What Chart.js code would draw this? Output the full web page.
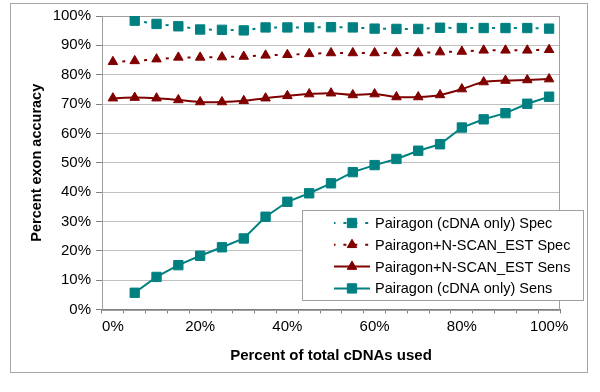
<!DOCTYPE html>
<html>
<head>
  <title>Percent exon accuracy</title>
  <script src="https://cdn.jsdelivr.net/npm/chart.js"></script>
  <style>
    body { margin: 0; background: #fff; }
    .wrap { width: 600px; height: 392px; }
  </style>
</head>
<body>
<div class="wrap"><canvas id="chart" width="600" height="392"></canvas></div>
<script>
  // x categories: percent of total cDNAs used
  const categories = ['0%', '5%', '10%', '15%', '20%', '25%', '30%', '35%', '40%', '45%', '50%',
                      '55%', '60%', '65%', '70%', '75%', '80%', '85%', '90%', '95%', '100%'];
  const yTicks = [0, 10, 20, 30, 40, 50, 60, 70, 80, 90, 100];

  // percent exon accuracy
  const pairagonSpec = [null, 98.4, 97.3, 96.5, 95.4, 95.3, 95.1, 96.1, 96.1, 96.1, 96.2,
                        96.1, 95.7, 95.6, 95.6, 96.0, 95.9, 95.9, 95.9, 95.9, 95.7];
  const nscanSpec    = [84.4, 84.7, 85.3, 85.9, 85.9, 86.0, 86.2, 86.6, 86.8, 87.1, 87.4,
                        87.4, 87.4, 87.4, 87.4, 87.7, 87.9, 88.3, 88.3, 88.3, 88.5];
  const nscanSens    = [72.0, 72.2, 72.0, 71.4, 70.7, 70.7, 71.1, 72.0, 72.8, 73.4, 73.7,
                        73.1, 73.4, 72.4, 72.4, 73.1, 75.1, 77.5, 78.0, 78.2, 78.5];
  const pairagonSens = [null, 5.7, 11.1, 15.1, 18.3, 21.2, 24.2, 31.6, 36.7, 39.6, 43.0,
                        46.8, 49.2, 51.3, 54.1, 56.3, 62.0, 64.8, 66.9, 70.1, 72.5];

  const TEAL = '#008080';
  const DARKRED = '#800000';
  const FONT = "'Liberation Sans', Arial, sans-serif";

  // outer chart frame + plot area border
  const framePlugin = {
    id: 'frame',
    beforeDraw(chart) {
      const ctx = chart.ctx;
      ctx.save();
      ctx.fillStyle = '#fff';
      ctx.fillRect(0, 0, chart.width, chart.height);
      ctx.strokeStyle = '#a6a6a6';
      ctx.lineWidth = 1;
      ctx.strokeRect(10.5, 3.5, 577, 369);
      ctx.restore();
    },
    beforeDatasetsDraw(chart) {
      const a = chart.chartArea;
      const ctx = chart.ctx;
      ctx.save();
      ctx.strokeStyle = '#a0a0a0';
      ctx.lineWidth = 1;
      ctx.strokeRect(Math.round(a.left) + 0.5, Math.round(a.top) + 0.5,
                     Math.round(a.right - a.left) - 1, Math.round(a.bottom - a.top));
      ctx.restore();
    }
  };

  // Excel-like legend box inside the plot, drawn from the datasets
  const legendBoxPlugin = {
    id: 'legendBox',
    afterDraw(chart) {
      const ctx = chart.ctx;
      const box = { x: 302.5, y: 210.5, w: 281, h: 90 };
      ctx.save();
      ctx.fillStyle = '#fff';
      ctx.fillRect(box.x, box.y, box.w, box.h);
      ctx.strokeStyle = '#a0a0a0';
      ctx.lineWidth = 1;
      ctx.strokeRect(box.x, box.y, box.w, box.h);

      chart.data.datasets.forEach((ds, i) => {
        const y = 223 + i * 21.8;
        ctx.strokeStyle = ds.borderColor;
        ctx.lineWidth = ds.borderWidth;
        ctx.setLineDash(ds.borderDash || []);
        ctx.lineDashOffset = ds.borderDashOffset || 0;
        ctx.beginPath();
        ctx.moveTo(334, y);
        ctx.lineTo(370, y);
        ctx.stroke();
        ctx.setLineDash([]);
        ctx.fillStyle = ds.pointBackgroundColor;
        ctx.strokeStyle = ds.pointBorderColor;
        ctx.lineWidth = 1;
        Chart.helpers.drawPoint(ctx, {
          pointStyle: ds.pointStyle, rotation: 0,
          radius: ds.pointRadius, borderWidth: 1
        }, 352, y);
        ctx.fillStyle = '#000';
        ctx.font = '14.5px ' + FONT;
        ctx.textBaseline = 'middle';
        ctx.textAlign = 'left';
        ctx.fillText(ds.label, 375, y + 1);
      });
      ctx.restore();
    }
  };

  function series(label, data, color, style, radius, dashed, tension) {
    return {
      label: label,
      data: data,
      borderColor: color,
      backgroundColor: color,
      borderWidth: 2,
      borderDash: dashed ? [3, 7.9] : [],
      borderDashOffset: dashed ? 1.5 : 0,
      pointStyle: style,
      pointRadius: radius,
      pointBorderWidth: 1,
      pointBackgroundColor: color,
      pointBorderColor: color,
      tension: tension,
      spanGaps: false
    };
  }

  new Chart(document.getElementById('chart'), {
    type: 'line',
    data: {
      labels: categories,
      datasets: [
        series('Pairagon (cDNA only) Spec', pairagonSpec, TEAL, 'rect', 6.6, true, 0),
        series('Pairagon+N-SCAN_EST Spec', nscanSpec, DARKRED, 'triangle', 5.5, true, 0),
        series('Pairagon+N-SCAN_EST Sens', nscanSens, DARKRED, 'triangle', 5.5, false, 0.35),
        series('Pairagon (cDNA only) Sens', pairagonSens, TEAL, 'rect', 6.6, false, 0)
      ]
    },
    options: {
      responsive: false,
      animation: false,
      layout: { padding: { top: 16, right: 40, left: 0, bottom: 0 } },
      plugins: {
        legend: { display: false },
        tooltip: { enabled: false }
      },
      scales: {
        x: {
          type: 'category',
          offset: true,
          ticks: {
            autoSkip: false,
            maxRotation: 0,
            padding: 4,
            color: '#000',
            font: { size: 15, family: FONT },
            callback: (v, i) => (i % 4 === 0 ? categories[i] : '')
          },
          grid: { offset: true, drawOnChartArea: false, tickLength: 4, tickColor: '#808080' },
          border: { color: '#808080', width: 1 },
          title: {
            display: true,
            text: 'Percent of total cDNAs used',
            color: '#000',
            font: { size: 15, weight: 'bold', family: FONT },
            padding: { top: 4, bottom: 27 }
          },
          afterFit: s => { s.height = 82.5; }
        },
        y: {
          min: 0,
          max: 100,
          afterBuildTicks: s => { s.ticks = yTicks.map(v => ({ value: v })); },
          ticks: {
            padding: 5,
            color: '#000',
            font: { size: 15, family: FONT },
            callback: v => v + '%'
          },
          grid: { color: '#c0c0c0', tickColor: '#808080', tickLength: 6 },
          border: { color: '#808080', width: 1 },
          title: {
            display: true,
            text: 'Percent exon accuracy',
            color: '#000',
            font: { size: 14.5, weight: 'bold', family: FONT },
            padding: { top: 28, bottom: 0 }
          },
          afterFit: s => { s.width = 102; }
        }
      }
    },
    plugins: [framePlugin, legendBoxPlugin]
  });
</script>
</body>
</html>
